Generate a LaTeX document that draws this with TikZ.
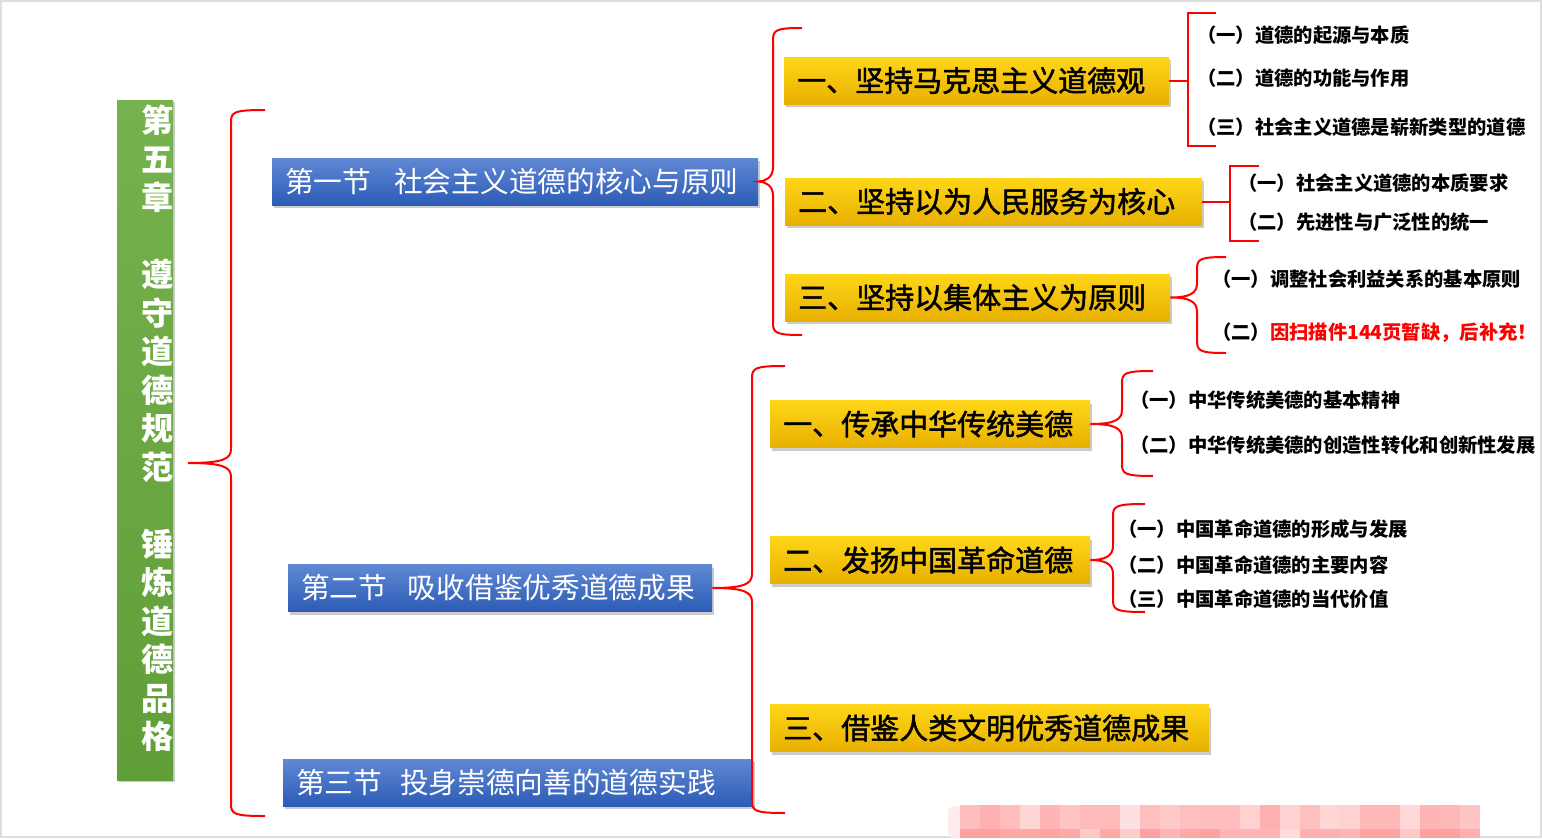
\documentclass[tikz,border=0pt]{standalone}
\usepackage{fontspec}
\setmainfont{Noto Sans CJK SC}
\newfontfamily\midfont[FakeBold=1.6]{Noto Sans CJK SC}
\usetikzlibrary{shadows,calc}

\definecolor{secblueA}{RGB}{96,136,212}
\definecolor{secblueB}{RGB}{44,92,182}
\definecolor{goldA}{RGB}{255,214,24}
\definecolor{goldB}{RGB}{232,176,0}
\definecolor{chgreenA}{RGB}{118,178,78}
\definecolor{chgreenB}{RGB}{96,158,56}
\definecolor{framegray}{RGB}{222,222,222}

% curly brace: node, spine x, arm x, top y, bottom y
\newcommand{\cbrace}[5]{%
  \draw[redline] let \p1=(#1.east) in
    (#3pt,-#4pt) .. controls (#2pt+3pt,-#4pt) and (#2pt,-#4pt-2pt) .. (#2pt,-#4pt-12pt)
    -- (#2pt,\y1+14pt) .. controls (#2pt,\y1+4pt) and (#2pt-8pt,\y1) .. (\x1,\y1)
    .. controls (#2pt-8pt,\y1) and (#2pt,\y1-4pt) .. (#2pt,\y1-14pt)
    -- (#2pt,-#5pt+12pt) .. controls (#2pt,-#5pt+2pt) and (#2pt+3pt,-#5pt) .. (#3pt,-#5pt);
}
% square bracket: node, spine x, arm x, top y, bottom y
\newcommand{\sbrack}[5]{%
  \draw[redline] let \p1=(#1.east) in (\x1,\y1) -- (#2pt,\y1);
  \draw[redline] (#3pt,-#4pt) -- (#2pt,-#4pt) -- (#2pt,-#5pt) -- (#3pt,-#5pt);
}

\tikzset{
  redline/.style={red, line width=2pt, line join=miter},
  chbar/.style={rectangle, inner sep=0pt, minimum width=56pt, minimum height=680pt,
    top color=chgreenA, bottom color=chgreenB,
    drop shadow={shadow xshift=2pt, shadow yshift=-2pt, fill=black!40}},
  secbox/.style={rectangle, anchor=west, inner xsep=13pt, inner ysep=0pt,
    minimum height=47pt, align=left, text=white,
    font=\fontsize{28.7}{30}\selectfont,
    top color=secblueA, bottom color=secblueB,
    drop shadow={shadow xshift=2pt, shadow yshift=-3pt, fill=black!40}},
  subbox/.style={rectangle, anchor=west, inner xsep=13pt, inner ysep=0pt,
    minimum height=47pt, align=left, text=black,
    font=\midfont\fontsize{29}{31}\selectfont,
    top color=goldA, bottom color=goldB,
    drop shadow={shadow xshift=2pt, shadow yshift=-3pt, fill=black!40}},
  item/.style={anchor=west, inner sep=0pt, font=\bfseries\fontsize{19.3}{21}\selectfont}
}

\begin{document}
\begin{tikzpicture}[x=1pt, y=-1pt]

    \useasboundingbox (0,0) rectangle (1542,838);
    \draw[framegray, line width=2pt] (1,1) rectangle (1541,837);

    % =====================================================
    % Chapter bar
    % =====================================================
    \node[chbar] (ch) at (145,440) {};
    \node[align=center, inner sep=0pt, text=white,
          font=\bfseries\fontsize{32}{38.5}\selectfont] (chtxt) at (157,428.5)
        {第\\五\\章\\[38.5pt]遵\\守\\道\\德\\规\\范\\[38.5pt]锤\\炼\\道\\德\\品\\格};

    \coordinate (chtip) at (188,463);
    \cbrace{chtip}{231}{265}{110}{816}

    % =====================================================
    % Sections
    % =====================================================
    \node[secbox, text width=460pt] (s1) at (272,181.5)
        {第一节\hspace{0.8em}社会主义道德的核心与原则};
    \node[secbox, text width=398pt] (s2) at (288,588)
        {第二节\hspace{0.72em}吸收借鉴优秀道德成果};
    \node[secbox, text width=444pt] (s3) at (283,782.5)
        {第三节\hspace{0.62em}投身崇德向善的道德实践};

    \cbrace{s1}{773}{802}{28}{335}
    \cbrace{s2}{752}{785}{366}{813}

    % =====================================================
    % Section 1 parts
    % =====================================================
    \node[subbox, text width=359pt] (a1) at (784,80.5) {一、坚持马克思主义道德观};
    \node[subbox, text width=391pt] (a2) at (785,201.5) {二、坚持以为人民服务为核心};
    \node[subbox, text width=359pt] (a3) at (785,297.5) {三、坚持以集体主义为原则};

    \sbrack{a1}{1188}{1216}{13}{146}
    \sbrack{a2}{1230}{1259}{166}{241}
    \cbrace{a3}{1197}{1226}{257}{353}

    \node[item] (a11) at (1197,35) {（一）道德的起源与本质};
    \node[item] (a12) at (1197,78) {（二）道德的功能与作用};
    \node[item] (a13) at (1197,127) {（三）社会主义道德是崭新类型的道德};

    \node[item] (a21) at (1238,183) {（一）社会主义道德的本质要求};
    \node[item] (a22) at (1238,222) {（二）先进性与广泛性的统一};

    \node[item] (a31) at (1212,279) {（一）调整社会利益关系的基本原则};
    \node[item] (a32) at (1212,333) {（二）\textcolor{red}{因扫描件144页暂缺，后补充！}};

    % =====================================================
    % Section 2 parts
    % =====================================================
    \node[subbox, text width=294pt] (b1) at (770,424) {一、传承中华传统美德};
    \node[subbox, text width=294pt] (b2) at (770,560) {二、发扬中国革命道德};
    \node[subbox, text width=413pt] (b3) at (770,728) {三、借鉴人类文明优秀道德成果};

    \cbrace{b1}{1122}{1153}{371}{476}
    \cbrace{b2}{1113}{1145}{504}{612}

    \node[item] (b11) at (1130,400) {（一）中华传统美德的基本精神};
    \node[item] (b12) at (1130,445) {（二）中华传统美德的创造性转化和创新性发展};

    \node[item] (b21) at (1118,529) {（一）中国革命道德的形成与发展};
    \node[item] (b22) at (1118,565) {（二）中国革命道德的主要内容};
    \node[item] (b23) at (1118,599) {（三）中国革命道德的当代价值};

    % =====================================================
    % Mosaic patch, bottom right
    % =====================================================
    \fill[red!8!white, rounded corners=6pt] (948,806) rectangle (962,838);
    \foreach \a/\b [count=\i from 0] in {26/37,31/37,26/34,16/34,29/36,23/34,27/21,27/34,12/20,25/37,
                                         21/29,25/34,26/37,26/29,18/29,31/29,18/14,25/31,16/31,18/29,
                                         28/36,28/36,15/21,29/37,28/37,23/32} {
        \fill[red!\a!white] (960+20*\i,805) rectangle ++(20,24);
        \fill[red!\b!white] (960+20*\i,829) rectangle ++(20,9);
    }

\end{tikzpicture}
\end{document}
